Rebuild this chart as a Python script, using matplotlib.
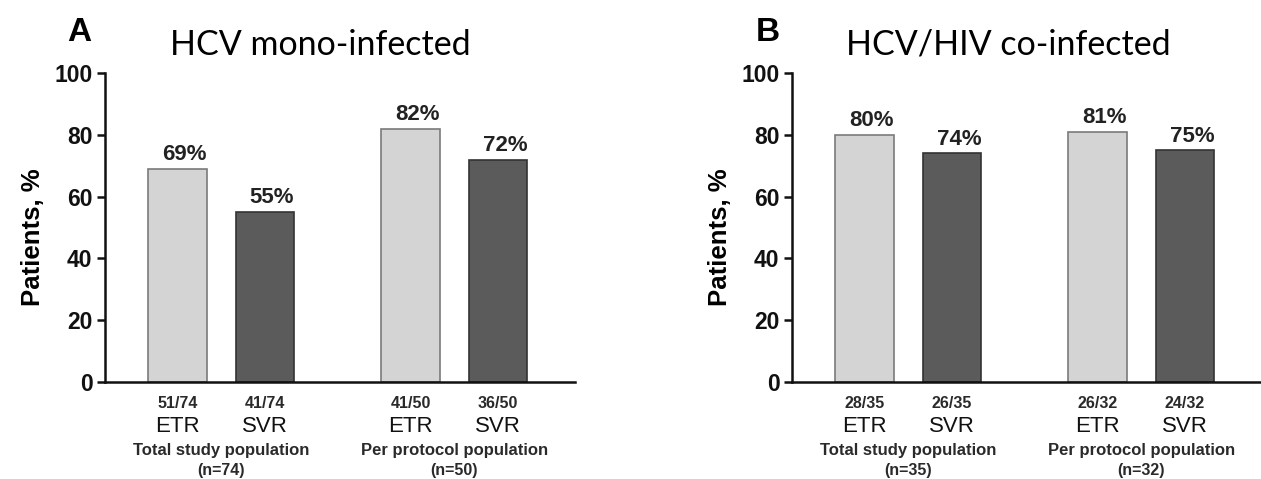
import matplotlib
matplotlib.use("Agg")
import matplotlib.pyplot as plt

# ---- data ----
panel_letters = ["A", "B"]
panel_titles = ["HCV mono-infected", "HCV/HIV co-infected"]
bar_labels = ["ETR", "SVR", "ETR", "SVR"]
values_A = [69, 55, 82, 72]
values_B = [80, 74, 81, 75]
fractions_A = ["51/74", "41/74", "41/50", "36/50"]
fractions_B = ["28/35", "26/35", "26/32", "24/32"]
groups_A = ["Total study population", "Per protocol population"]
groups_B = ["Total study population", "Per protocol population"]
n_A = ["(n=74)", "(n=50)"]
n_B = ["(n=35)", "(n=32)"]
y_ticks = [0, 20, 40, 60, 80, 100]

positions = [0, 1, 2.67, 3.67]
colors = ["#d4d4d4", "#5b5b5b", "#d4d4d4", "#5b5b5b"]
edges = ["#7a7a7a", "#333333", "#7a7a7a", "#333333"]

W, H = 1261, 479
fig = plt.figure(figsize=(W / 100, H / 100), dpi=100)
plt.rcParams['font.family'] = ['Liberation Sans', 'DejaVu Sans']

ax_rects = [
    [105 / W, 1 - 382 / H, 470 / W, 309 / H],
    [792 / W, 1 - 382 / H, 470 / W, 309 / H],
]
values = [values_A, values_B]
fractions = [fractions_A, fractions_B]
groups = [groups_A, groups_B]
ns = [n_A, n_B]
letter_x = [67, 756]
title_x = [320, 1008]

for k in range(2):
    ax = fig.add_axes(ax_rects[k])
    ax.bar(positions, values[k], width=0.67, color=colors, edgecolor=edges,
           linewidth=1.2, zorder=2)
    ax.set_xlim(-0.83, 4.55)
    ax.set_ylim(0, 100)
    ax.set_yticks(y_ticks)
    ax.set_yticklabels([str(t) for t in y_ticks], fontsize=16.5, fontweight='bold')
    ax.set_xticks([])
    for s in ["top", "right"]:
        ax.spines[s].set_visible(False)
    for s in ["left", "bottom"]:
        ax.spines[s].set_linewidth(1.8)
        ax.spines[s].set_color("#111111")
    ax.spines["bottom"].set_zorder(3)
    ax.tick_params(axis='y', length=6, width=1.8, pad=3, colors="#111111")
    ax.set_ylabel("Patients, %", fontsize=18.5, fontweight='bold')
    ax.yaxis.set_label_coords(-0.128, 0.47)
    trans = ax.get_xaxis_transform()
    for p, v, fr, bl in zip(positions, values[k], fractions[k], bar_labels):
        ax.text(p + 0.08, v + 1.2, f"{v}%", ha='center', va='bottom',
                fontsize=16, fontweight='bold', color="#222222")
        ax.text(p, -0.068, fr, transform=trans, ha='center', va='center',
                fontsize=11.5, fontweight='bold', color="#2a2a2a")
        ax.text(p, -0.145, bl, transform=trans, ha='center', va='center',
                fontsize=16, color="#111111")
    for gi in range(2):
        gx = (positions[2 * gi] + positions[2 * gi + 1]) / 2
        ax.text(gx, -0.223, groups[k][gi], transform=trans, ha='center',
                va='center', fontsize=12, fontweight='bold', color="#2a2a2a")
        ax.text(gx, -0.287, ns[k][gi], transform=trans, ha='center',
                va='center', fontsize=11.5, fontweight='bold', color="#2a2a2a")
    fig.text(letter_x[k] / W, 1 - 41 / H, panel_letters[k], fontsize=24,
             fontweight='bold', ha='left', va='baseline')
    fig.text(title_x[k] / W, 1 - 55 / H, panel_titles[k], fontsize=24.5,
             family=['Lato', 'DejaVu Sans'], ha='center', va='baseline')

fig.savefig("out.png", dpi=100)
